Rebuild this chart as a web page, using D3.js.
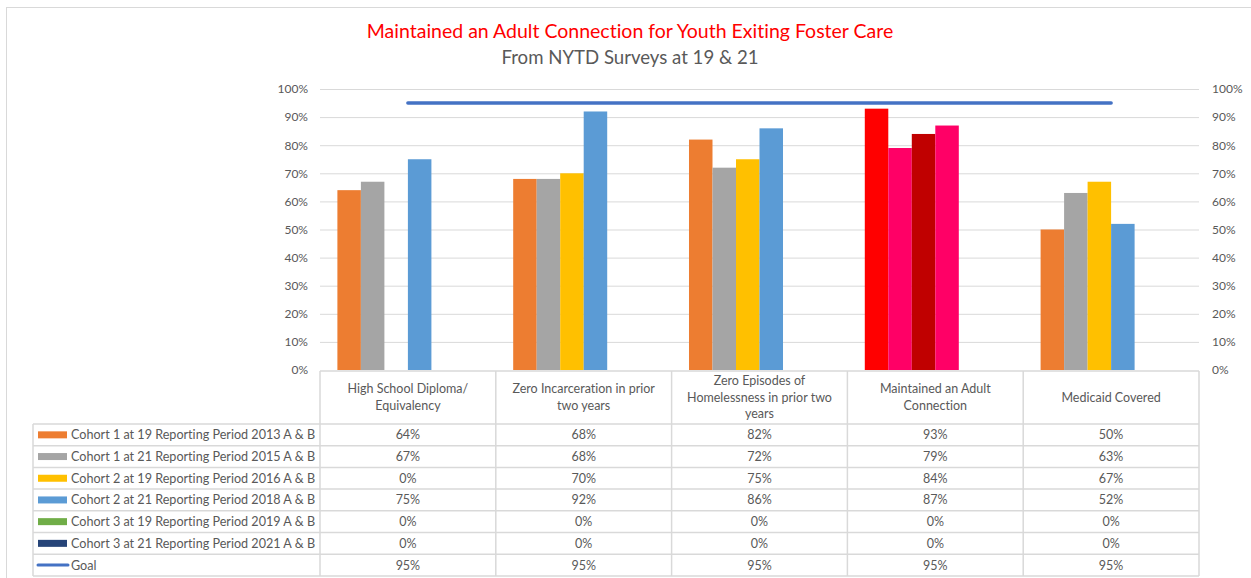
<!DOCTYPE html>
<html>
<head>
<meta charset="utf-8">
<script src="https://d3js.org/d3.v7.min.js"></script>
<style>
  body { margin: 0; background: #fff; }
  svg text { font-family: Lato, "Liberation Sans", sans-serif; fill: #595959; font-variant-ligatures: none; }
</style>
</head>
<body>
<script>
(function(){

// categories (with header line breaks as in the table)
var categories = ["High School Diploma/ Equivalency", "Zero Incarceration in prior two years",
    "Zero Episodes of Homelessness in prior two years", "Maintained an Adult Connection", "Medicaid Covered"];
var catLines = [["High School Diploma/", "Equivalency"], ["Zero Incarceration in prior", "two years"],
    ["Zero Episodes of", "Homelessness in prior two", "years"], ["Maintained an Adult", "Connection"], ["Medicaid Covered"]];

// series names and values (percent)
var seriesNames = ["Cohort 1 at 19 Reporting Period 2013 A & B", "Cohort 1 at 21 Reporting Period 2015 A & B",
    "Cohort 2 at 19 Reporting Period 2016 A & B", "Cohort 2 at 21 Reporting Period 2018 A & B",
    "Cohort 3 at 19 Reporting Period 2019 A & B", "Cohort 3 at 21 Reporting Period 2021 A & B"];
var cohort1at19 = [64, 68, 82, 93, 50];
var cohort1at21 = [67, 68, 72, 79, 63];
var cohort2at19 = [0, 70, 75, 84, 67];
var cohort2at21 = [75, 92, 86, 87, 52];
var cohort3at19 = [0, 0, 0, 0, 0];
var cohort3at21 = [0, 0, 0, 0, 0];
var goal = [95, 95, 95, 95, 95];

var yTicks = [0, 10, 20, 30, 40, 50, 60, 70, 80, 90, 100];

var seriesValues = [cohort1at19, cohort1at21, cohort2at19, cohort2at21, cohort3at19, cohort3at21];
var seriesColors = ["#ED7D31", "#A5A5A5", "#FFC000", "#5B9BD5", "#70AD47", "#264478"];
// highlighted category uses its own colours
var highlightCat = 3;
var highlightColors = ["#FF0000", "#FF0066", "#C00000", "#FF0066", "#70AD47", "#264478"];

// dimensions
var width = 1251, height = 578;
var plotLeft = 320, plotRight = 1199, plotTop = 89, plotBottom = 370;
var headerBottom = 424, rowH = 21.7, legendLeft = 33;

var svg = d3.select("body").append("svg")
    .attr("width", width)
    .attr("height", height);

// outer frame
svg.append("rect")
    .attr("x", 6.5).attr("y", 7.5)
    .attr("width", 1260).attr("height", 600)
    .attr("fill", "none")
    .attr("stroke", "#D9D9D9");

// titles
svg.append("text")
    .attr("x", 630).attr("y", 38)
    .attr("text-anchor", "middle")
    .style("font-size", "19.5px")
    .style("fill", "#FF0000")
    .text("Maintained an Adult Connection for Youth Exiting Foster Care");
svg.append("text")
    .attr("x", 630).attr("y", 64)
    .attr("text-anchor", "middle")
    .style("font-size", "18.6px")
    .text("From NYTD Surveys at 19 & 21");

// scales
var yScale = d3.scaleLinear().domain([0, 100]).range([plotBottom, plotTop]);
var xScale = d3.scaleBand().domain(categories).range([plotLeft, plotRight]);
var xInner = d3.scaleBand().domain(d3.range(seriesNames.length))
    .range([0, xScale.bandwidth()])
    .paddingOuter(0.74);

// gridlines
svg.append("g").selectAll("line")
    .data(yTicks.slice(1))
    .enter().append("line")
    .attr("x1", plotLeft).attr("x2", plotRight)
    .attr("y1", function(d){ return yScale(d) + 0.5; })
    .attr("y2", function(d){ return yScale(d) + 0.5; })
    .attr("stroke", "#D9D9D9");

// axes labels
var fmt = function(d){ return d + "%"; };
var leftAxis = svg.append("g")
    .attr("transform", "translate(" + plotLeft + ",0)")
    .call(d3.axisLeft(yScale).tickValues(yTicks).tickFormat(fmt).tickSize(0).tickPadding(12));
var rightAxis = svg.append("g")
    .attr("transform", "translate(" + plotRight + ",0)")
    .call(d3.axisRight(yScale).tickValues(yTicks).tickFormat(fmt).tickSize(0).tickPadding(13));
[leftAxis, rightAxis].forEach(function(ax){
    ax.select(".domain").remove();
    ax.selectAll("text").style("font-size", "12px").style("fill", "#595959").style("font-family", null);
});

// bars
var barData = [];
seriesValues.forEach(function(vals, s){
    vals.forEach(function(v, c){
        barData.push({ s: s, c: c, v: v });
    });
});
svg.append("g").selectAll("rect")
    .data(barData)
    .enter().append("rect")
    .attr("x", function(d){ return xScale(categories[d.c]) + xInner(d.s); })
    .attr("width", xInner.bandwidth())
    .attr("y", function(d){ return yScale(d.v); })
    .attr("height", function(d){ return yScale(0) - yScale(d.v); })
    .attr("fill", function(d){
        return d.c === highlightCat ? highlightColors[d.s] : seriesColors[d.s];
    });

// goal line
var line = d3.line()
    .x(function(d, i){ return xScale(categories[i]) + xScale.bandwidth() / 2; })
    .y(function(d){ return yScale(d); });
svg.append("path")
    .datum(goal)
    .attr("d", line)
    .attr("fill", "none")
    .attr("stroke", "#4472C4")
    .attr("stroke-width", 3.5)
    .attr("stroke-linecap", "round");

// data table
var table = svg.append("g");
var rows = seriesNames.concat(["Goal"]);
var rowValues = seriesValues.concat([goal]);
var tableBottom = headerBottom + rows.length * rowH;
var gridStroke = "#D9D9D9";

// header row borders
table.append("line")
    .attr("x1", plotLeft).attr("x2", plotRight)
    .attr("y1", plotBottom + 1).attr("y2", plotBottom + 1)
    .attr("stroke", gridStroke).attr("stroke-width", 1.5);
// horizontal row lines
table.selectAll(".hrow")
    .data(d3.range(rows.length + 1))
    .enter().append("line")
    .attr("x1", legendLeft).attr("x2", plotRight)
    .attr("y1", function(i){ return headerBottom + i * rowH; })
    .attr("y2", function(i){ return headerBottom + i * rowH; })
    .attr("stroke", gridStroke).attr("stroke-width", 1.5);
// vertical column lines
var colEdges = categories.map(function(c){ return xScale(c); }).concat([plotRight]);
table.selectAll(".vcol")
    .data(colEdges)
    .enter().append("line")
    .attr("x1", function(d){ return d; }).attr("x2", function(d){ return d; })
    .attr("y1", plotBottom + 1).attr("y2", tableBottom)
    .attr("stroke", gridStroke).attr("stroke-width", 1.5);
table.append("line")
    .attr("x1", legendLeft).attr("x2", legendLeft)
    .attr("y1", headerBottom).attr("y2", tableBottom)
    .attr("stroke", gridStroke).attr("stroke-width", 1.5);

// category headers
var lineH = 16.5;
categories.forEach(function(c, i){
    var lines = catLines[i];
    var cy = (plotBottom + headerBottom) / 2;
    var t = table.append("text")
        .attr("text-anchor", "middle")
        .style("font-size", "12.5px");
    lines.forEach(function(l, j){
        t.append("tspan")
            .attr("x", xScale(c) + xScale.bandwidth() / 2)
            .attr("y", cy + (j - (lines.length - 1) / 2) * lineH + 4.5)
            .text(l);
    });
});

// legend keys and row names
rows.forEach(function(r, i){
    var cy = headerBottom + i * rowH + rowH / 2;
    if (i < seriesNames.length) {
        table.append("rect")
            .attr("x", 38).attr("y", cy - 3.5)
            .attr("width", 29).attr("height", 7)
            .attr("fill", seriesColors[i]);
    } else {
        table.append("line")
            .attr("x1", 38).attr("x2", 68)
            .attr("y1", cy).attr("y2", cy)
            .attr("stroke", "#4472C4").attr("stroke-width", 3)
            .attr("stroke-linecap", "round");
    }
    table.append("text")
        .attr("x", 71).attr("y", cy + 4.5)
        .style("font-size", "12.6px")
        .text(r);
    rowValues[i].forEach(function(v, c){
        table.append("text")
            .attr("x", xScale(categories[c]) + xScale.bandwidth() / 2)
            .attr("y", cy + 4.5)
            .attr("text-anchor", "middle")
            .style("font-size", "12.5px")
            .text(v + "%");
    });
});

})();
</script>
</body>
</html>
